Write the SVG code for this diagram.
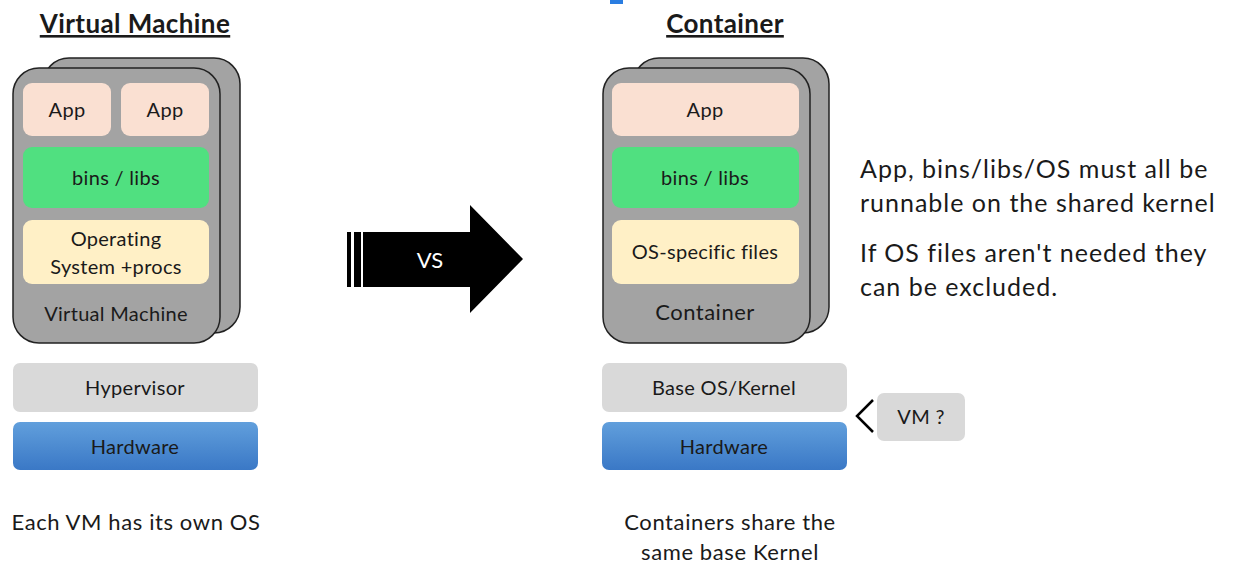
<svg xmlns="http://www.w3.org/2000/svg" width="1234" height="578" viewBox="0 0 1234 578">
<defs>
<linearGradient id="hw" x1="0" y1="0" x2="0" y2="1">
<stop offset="0" stop-color="#619fdc"/>
<stop offset="1" stop-color="#3a78c6"/>
</linearGradient>
<style>
text{font-family:Lato,"Open Sans","Liberation Sans",sans-serif;fill:#1a1a1a;text-anchor:middle;}
.card{fill:#a3a3a3;stroke:#222;stroke-width:1.5;}
.app{fill:#fae0d2;}
.bins{fill:#50e080;}
.os{fill:#fff0c6;}
.gray{fill:#d9d9d9;}
.hw{fill:url(#hw);}
.t{font-size:20px;letter-spacing:0.3px;}
.title{font-size:26px;font-weight:bold;text-decoration:underline;letter-spacing:0.4px;}
.note{font-size:25px;text-anchor:start;letter-spacing:1px;}
.cap{font-size:22px;letter-spacing:0.6px;}
</style>
</defs>
<rect x="610" y="0" width="13" height="4" fill="#2a7de1"/>
<g id="vm-title"><text class="title" x="135" y="33">Virtual Machine</text></g>
<g id="vm">
<rect class="card" x="43" y="58" width="197" height="275" rx="26"/>
<rect class="card" x="13" y="68" width="207" height="275" rx="26"/>
<rect class="app" x="23" y="83" width="88" height="53" rx="9"/>
<text class="t" x="67" y="117">App</text>
<rect class="app" x="121" y="83" width="88" height="53" rx="9"/>
<text class="t" x="165" y="117">App</text>
<rect class="bins" x="23" y="147" width="186" height="61" rx="9"/>
<text class="t" x="116" y="185">bins / libs</text>
<rect class="os" x="23" y="220" width="186" height="64" rx="9"/>
<text class="t" x="116" y="246">Operating</text>
<text class="t" x="116" y="274">System +procs</text>
<text class="t" x="116" y="321">Virtual Machine</text>
</g>
<g id="hypervisor"><rect class="gray" x="13" y="363" width="245" height="49" rx="7"/><text class="t" x="135" y="395">Hypervisor</text></g>
<g id="hw-left"><rect class="hw" x="13" y="422" width="245" height="48" rx="7"/><text class="t" x="135" y="454">Hardware</text></g>
<g id="vm-cap"><text class="cap" x="136" y="530">Each VM has its own OS</text></g>
<g id="vs">
<rect x="347" y="232" width="4" height="55" fill="#000"/>
<rect x="354" y="232" width="7" height="55" fill="#000"/>
<polygon points="363,232 470,232 470,205 523,259 470,313 470,287 363,287" fill="#000"/>
<text x="430" y="268" style="font-size:22px;fill:#fff">VS</text>
</g>
<g id="ct-title"><text class="title" x="725" y="33">Container</text></g>
<g id="container">
<rect class="card" x="633" y="58" width="196" height="275" rx="26"/>
<rect class="card" x="603" y="68" width="207" height="275" rx="26"/>
<rect class="app" x="612" y="83" width="187" height="53" rx="9"/>
<text class="t" x="705" y="117">App</text>
<rect class="bins" x="612" y="147" width="187" height="61" rx="9"/>
<text class="t" x="705" y="185">bins / libs</text>
<rect class="os" x="612" y="220" width="187" height="64" rx="9"/>
<text class="t" x="705" y="259">OS-specific files</text>
<text class="t" x="705" y="320" style="font-size:22px;letter-spacing:0.5px">Container</text>
</g>
<g id="baseos"><rect class="gray" x="602" y="363" width="245" height="49" rx="7"/><text class="t" x="724" y="395">Base OS/Kernel</text></g>
<g id="hw-right"><rect class="hw" x="602" y="422" width="245" height="48" rx="7"/><text class="t" x="724" y="454">Hardware</text></g>
<g id="vmq">
<polyline points="873,400 857,416 873,432" fill="none" stroke="#000" stroke-width="2.5"/>
<rect class="gray" x="877" y="393" width="88" height="48" rx="7"/>
<text class="t" x="921" y="424">VM ?</text>
</g>
<g id="ct-cap"><text class="cap" x="730" y="530">Containers share the</text><text class="cap" x="730" y="560">same base Kernel</text></g>
<g id="notes">
<text class="note" x="860" y="178">App, bins/libs/OS must all be</text>
<text class="note" x="860" y="212">runnable on the shared kernel</text>
<text class="note" x="860" y="262">If OS files aren't needed they</text>
<text class="note" x="860" y="296">can be excluded.</text>
</g>
</svg>
